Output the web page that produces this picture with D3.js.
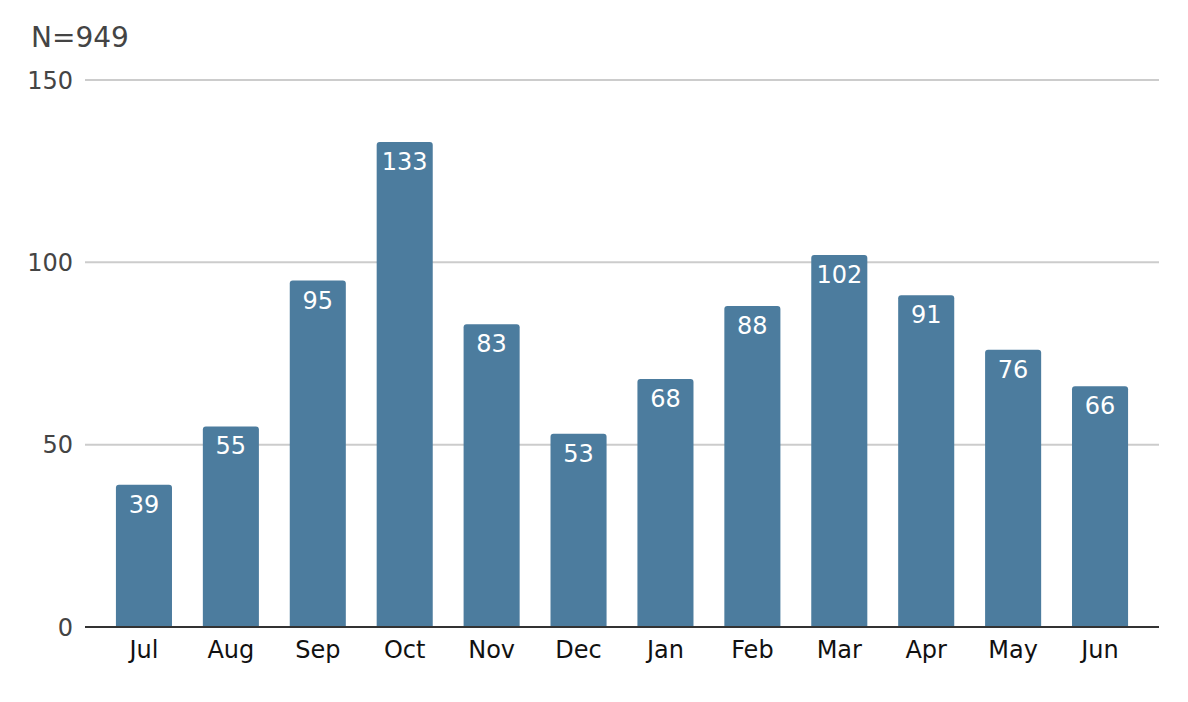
<!DOCTYPE html>
<html>
<head>
<meta charset="utf-8">
<script src="https://cdn.jsdelivr.net/npm/d3@7"></script>
<style>
  html, body { margin: 0; padding: 0; background: #fff; }
  svg { display: block; font-family: "DejaVu Sans", Verdana, sans-serif; }
</style>
</head>
<body>
<svg id="chart" width="1188" height="702"></svg>
<script>
const months = ["Jul","Aug","Sep","Oct","Nov","Dec","Jan","Feb","Mar","Apr","May","Jun"];
const counts = [39,55,95,133,83,53,68,88,102,91,76,66];
const yTicks = [0,50,100,150];
const titleText = "N=949";

const svg = d3.select("#chart");
const gridLeft = 85, gridRight = 1159;
const plotLeft = 100.5, plotRight = 1143.5;
const plotTop = 80, plotBottom = 627;

const x = d3.scaleBand().domain(months).range([plotLeft, plotRight]).paddingInner(0.355).paddingOuter(0.1775);
const y = d3.scaleLinear().domain([0,150]).range([plotBottom, plotTop]);

svg.append("text").attr("x", 31).attr("y", 47)
  .attr("font-size", 28).attr("fill", "#444").text(titleText);

// gridlines
svg.append("g").selectAll("line").data(yTicks.filter(d => d > 0)).join("line")
  .attr("x1", gridLeft).attr("x2", gridRight)
  .attr("y1", d => y(d)).attr("y2", d => y(d))
  .attr("stroke", "#cccccc").attr("stroke-width", 2);

// y tick labels
svg.append("g").selectAll("text").data(yTicks).join("text")
  .attr("x", 73).attr("y", d => y(d)).attr("dy", "0.36em")
  .attr("text-anchor", "end").attr("font-size", 24).attr("fill", "#444")
  .text(d => d);

// bars
const r = 3;
svg.append("g").selectAll("path").data(months).join("path")
  .attr("d", (m, i) => {
    const x0 = x(m), w = x.bandwidth(), y0 = y(counts[i]), yb = y(0);
    return `M${x0},${yb}V${y0 + r}Q${x0},${y0} ${x0 + r},${y0}H${x0 + w - r}Q${x0 + w},${y0} ${x0 + w},${y0 + r}V${yb}Z`;
  })
  .attr("fill", "#4c7c9e");

// value labels
svg.append("g").selectAll("text").data(months).join("text")
  .attr("x", m => x(m) + x.bandwidth() / 2)
  .attr("y", (m, i) => y(counts[i]) + 28)
  .attr("text-anchor", "middle").attr("font-size", 24).attr("fill", "#fff")
  .text((m, i) => counts[i]);

// x axis line
svg.append("line").attr("x1", gridLeft).attr("x2", gridRight)
  .attr("y1", y(0)).attr("y2", y(0))
  .attr("stroke", "#333").attr("stroke-width", 2);

// x axis labels
const xAxis = d3.axisBottom(x).tickSize(0).tickPadding(0);
const gx = svg.append("g").attr("transform", `translate(0,${y(0)})`).call(xAxis);
gx.select(".domain").remove();
gx.selectAll("text").attr("font-size", 24).attr("fill", "#111")
  .attr("font-family", "DejaVu Sans, Verdana, sans-serif")
  .attr("dy", null).attr("y", 31);
</script>
</body>
</html>
